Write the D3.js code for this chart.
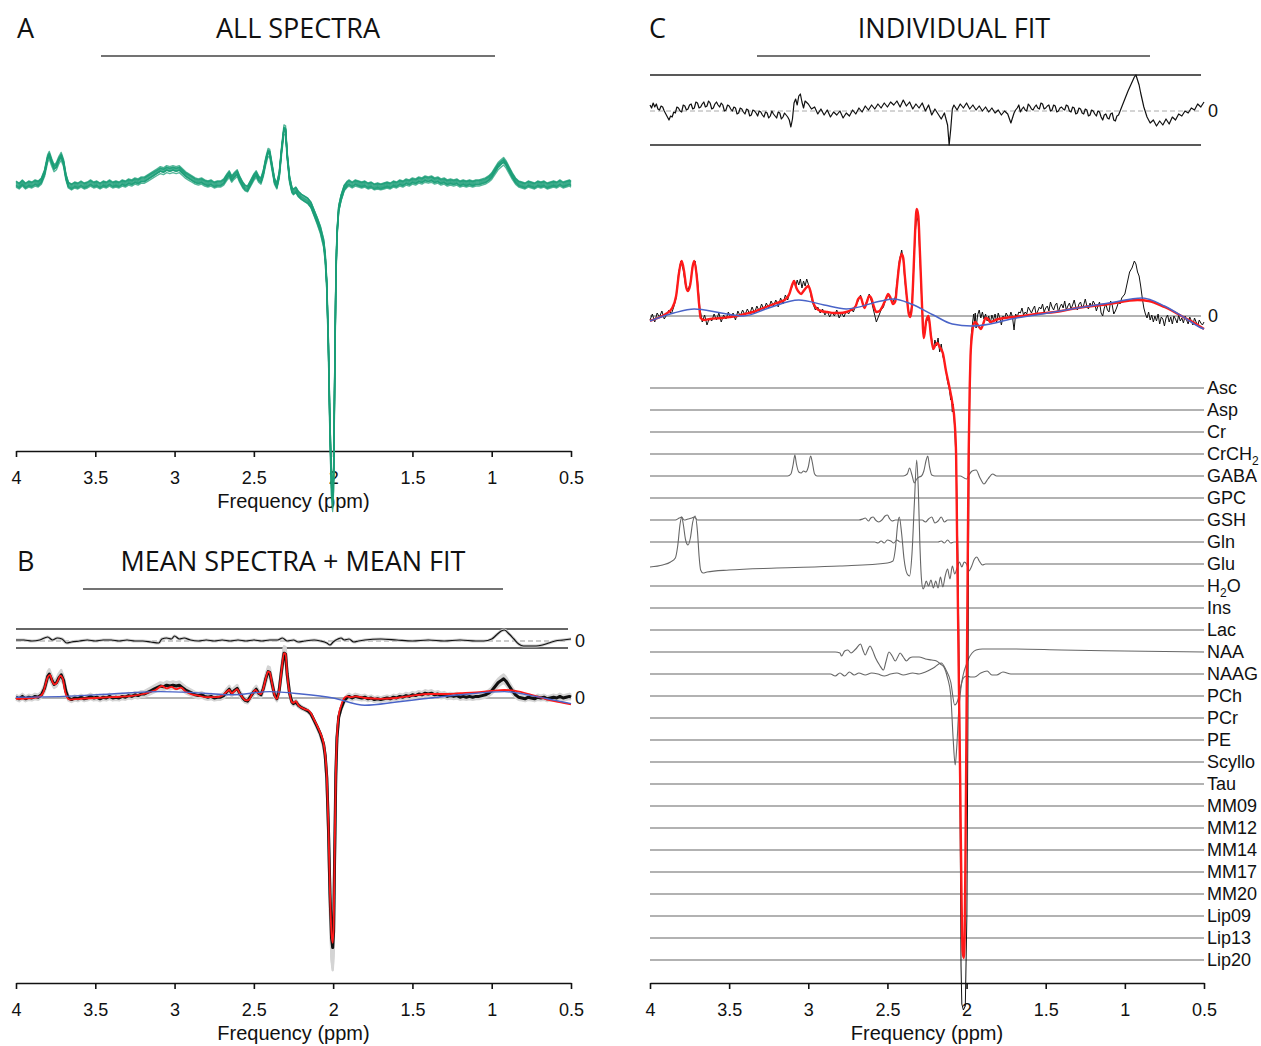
<!DOCTYPE html>
<html>
<head>
<meta charset="utf-8">
<script src="https://cdn.jsdelivr.net/npm/d3@7"></script>
<style>
body { margin: 0; background: #fff; }
</style>
</head>
<body>
<script>
// tick labels (ppm)
var tickPpm = [4, 3.5, 3, 2.5, 2, 1.5, 1, 0.5];
var tickLabels = ["4", "3.5", "3", "2.5", "2", "1.5", "1", "0.5"];

// mean spectrum [ppm, intensity] (A/B)
var meanSpec = [
[4.00,1],[3.98,-1],[3.96,2],[3.94,-1],[3.92,1],[3.90,0],[3.88,2],[3.86,1],[3.84,4],[3.82,12],[3.80,27],[3.79,30],[3.775,23],[3.76,17],[3.745,19],[3.73,25],[3.715,29],[3.70,22],[3.685,8],[3.67,0],[3.65,-2],[3.63,0],[3.61,-1],[3.59,1],[3.57,-1],[3.55,0],[3.53,2],[3.51,0],[3.49,1],[3.47,-1],[3.45,1],[3.43,0],[3.41,2],[3.39,0],[3.37,1],[3.35,0],[3.33,2],[3.31,1],[3.29,3],[3.27,2],[3.25,4],[3.23,3],[3.21,5],[3.19,5],[3.17,7],[3.15,9],[3.13,11],[3.11,13],[3.09,15],[3.07,14],[3.05,16],[3.03,15],[3.01,16],[2.99,15],[2.97,16],[2.95,13],[2.93,10],[2.91,8],[2.89,6],[2.87,4],[2.85,3],[2.83,4],[2.81,2],[2.79,1],[2.77,2],[2.75,0],[2.73,1],[2.71,1],[2.69,3],[2.67,8],[2.655,11],[2.64,6],[2.625,9],[2.605,12],[2.59,6],[2.57,0],[2.555,-3],[2.54,-4],[2.52,2],[2.50,8],[2.485,11],[2.47,6],[2.455,4],[2.44,12],[2.425,24],[2.41,33],[2.40,32],[2.385,18],[2.37,4],[2.355,-1],[2.34,10],[2.325,35],[2.31,56],[2.30,55],[2.29,30],[2.275,6],[2.26,-5],[2.25,-7],[2.235,-5],[2.22,-9],[2.20,-12],[2.18,-14],[2.16,-16],[2.14,-20],[2.12,-28],[2.10,-36],[2.08,-45],[2.06,-58],[2.05,-72],[2.04,-100],[2.03,-160],[2.02,-245],[2.01,-300],[2.003,-312],[1.997,-292],[1.99,-190],[1.983,-95],[1.976,-50],[1.965,-24],[1.95,-13],[1.94,-8],[1.93,-3],[1.91,1],[1.90,2],[1.88,0],[1.86,2],[1.84,1],[1.82,0],[1.80,1],[1.78,-1],[1.76,0],[1.74,-2],[1.72,-1],[1.70,-2],[1.68,-1],[1.66,0],[1.64,-1],[1.62,1],[1.60,0],[1.58,2],[1.56,1],[1.54,3],[1.52,2],[1.50,4],[1.48,3],[1.46,5],[1.44,4],[1.42,6],[1.40,5],[1.38,6],[1.36,4],[1.34,5],[1.32,3],[1.30,4],[1.28,2],[1.26,3],[1.24,2],[1.22,3],[1.20,1],[1.18,2],[1.16,1],[1.14,2],[1.12,1],[1.10,2],[1.08,2],[1.06,3],[1.04,4],[1.02,6],[1.00,9],[0.98,14],[0.96,19],[0.94,22],[0.925,24],[0.91,21],[0.89,15],[0.87,9],[0.85,4],[0.83,1],[0.81,0],[0.79,-1],[0.77,1],[0.75,0],[0.73,-1],[0.71,1],[0.69,0],[0.67,1],[0.65,-1],[0.63,0],[0.61,1],[0.59,0],[0.57,2],[0.55,0],[0.53,1],[0.51,2],[0.50,1]
];

// per subject gain / offset of the individual spectra
var subjectGain = [1.04, 0.97, 1.0, 1.02, 0.96, 1.01, 0.99, 1.03, 0.98];
var subjectShift = [-2, 2, 0, 3, -3, 1, -1, -1.5, 2.5];

// mean fit, baseline, residual (B)
var fitB = [[4.00,-1],[3.90,0],[3.86,1],[3.83,6],[3.80,26],[3.785,29],[3.77,20],[3.755,17],[3.74,20],[3.72,28],[3.705,24],[3.69,8],[3.675,0],[3.66,-2],[3.60,-1],[3.50,0],[3.40,1],[3.30,2],[3.20,5],[3.12,10],[3.08,15],[3.05,12],[3.02,14],[2.99,11],[2.96,13],[2.93,8],[2.90,5],[2.85,3],[2.80,1],[2.74,1],[2.70,3],[2.67,8],[2.655,10],[2.64,6],[2.625,8],[2.605,11],[2.59,6],[2.57,0],[2.55,-3],[2.53,-2],[2.51,5],[2.49,10],[2.47,6],[2.455,5],[2.44,12],[2.425,24],[2.41,33],[2.40,32],[2.385,18],[2.37,4],[2.355,-1],[2.34,10],[2.325,35],[2.31,56],[2.30,55],[2.29,30],[2.275,6],[2.26,-5],[2.25,-6],[2.235,-4],[2.22,-9],[2.20,-12],[2.18,-14],[2.16,-15],[2.14,-19],[2.12,-27],[2.10,-35],[2.08,-44],[2.06,-57],[2.05,-71],[2.04,-98],[2.03,-158],[2.02,-242],[2.01,-296],[2.003,-306],[1.997,-288],[1.99,-188],[1.983,-94],[1.976,-50],[1.965,-22],[1.95,-10],[1.94,-4],[1.93,0],[1.91,2],[1.89,1],[1.86,2],[1.80,0],[1.70,-1],[1.60,0],[1.50,3],[1.40,5],[1.30,5],[1.20,6],[1.10,7],[1.00,9],[0.92,10],[0.85,9],[0.75,4],[0.65,-2],[0.55,-6],[0.50,-8]];
var baseB = [[4.00,1],[3.70,2],[3.40,5],[3.09,8],[2.90,7],[2.64,4],[2.40,8],[2.20,5],[2.00,0],[1.80,-9],[1.60,-5],[1.43,-1],[1.20,4],[0.92,8],[0.75,3],[0.60,-3],[0.50,-7]];
var residB = [[4.00,1],[3.95,1],[3.90,0],[3.85,1],[3.80,4],[3.77,1],[3.74,3],[3.71,2],[3.68,-2],[3.65,-1],[3.60,0],[3.55,1],[3.50,0],[3.45,1],[3.40,1],[3.35,0],[3.30,1],[3.25,0],[3.20,0],[3.15,-1],[3.10,-2],[3.08,2],[3.05,3],[3.02,2],[3.00,5],[2.97,2],[2.94,3],[2.90,1],[2.85,0],[2.80,1],[2.75,0],[2.70,1],[2.65,0],[2.60,1],[2.55,0],[2.50,1],[2.45,0],[2.40,1],[2.35,1],[2.32,3],[2.29,0],[2.25,1],[2.22,-1],[2.18,0],[2.12,1],[2.08,0],[2.04,-2],[2.02,-4],[2.00,-1],[1.97,2],[1.95,3],[1.93,1],[1.90,2],[1.87,-1],[1.84,0],[1.80,1],[1.70,2],[1.60,1],[1.50,0],[1.40,1],[1.30,0],[1.20,1],[1.10,0],[1.05,0],[1.00,2],[0.97,6],[0.94,10],[0.92,11],[0.89,7],[0.86,2],[0.83,-3],[0.80,-5],[0.76,-5],[0.72,-5],[0.68,-4],[0.64,-2],[0.60,0],[0.55,1],[0.50,2]];

// individual fit (C)
var dataC = [[4.00,-4],[3.985,2],[3.97,-6],[3.955,3],[3.94,-1],[3.925,5],[3.91,-3],[3.895,1],[3.88,6],[3.865,2],[3.85,9],[3.835,18],[3.82,42],[3.805,55],[3.79,46],[3.775,30],[3.76,26],[3.745,33],[3.73,51],[3.715,55],[3.70,36],[3.685,8],[3.67,-6],[3.655,1],[3.64,-9],[3.625,-2],[3.61,-5],[3.595,2],[3.58,-4],[3.565,3],[3.55,-6],[3.535,1],[3.52,-3],[3.505,4],[3.49,-2],[3.475,3],[3.46,-4],[3.445,5],[3.43,0],[3.415,6],[3.40,1],[3.385,7],[3.37,2],[3.355,9],[3.34,3],[3.325,10],[3.31,5],[3.295,12],[3.28,6],[3.265,13],[3.25,8],[3.235,15],[3.22,10],[3.205,16],[3.19,9],[3.175,18],[3.16,12],[3.145,21],[3.13,16],[3.115,25],[3.10,30],[3.09,36],[3.08,29],[3.07,36],[3.06,31],[3.05,37],[3.04,28],[3.03,35],[3.02,30],[3.01,37],[3.00,32],[2.99,26],[2.98,18],[2.97,12],[2.955,6],[2.94,9],[2.925,3],[2.91,7],[2.895,1],[2.88,5],[2.865,-1],[2.85,4],[2.835,0],[2.82,6],[2.805,-2],[2.79,3],[2.775,-1],[2.76,5],[2.745,2],[2.73,8],[2.715,4],[2.70,11],[2.685,15],[2.67,21],[2.655,11],[2.645,9],[2.63,15],[2.615,22],[2.60,14],[2.585,4],[2.57,-6],[2.555,0],[2.54,6],[2.525,9],[2.51,18],[2.495,21],[2.48,16],[2.465,14],[2.45,19],[2.44,33],[2.425,55],[2.41,66],[2.40,56],[2.39,36],[2.375,14],[2.365,4],[2.355,2],[2.345,12],[2.335,44],[2.325,82],[2.315,100],[2.305,94],[2.295,60],[2.285,22],[2.27,-20],[2.255,-6],[2.24,-2],[2.225,-18],[2.21,-34],[2.20,-24],[2.19,-30],[2.18,-22],[2.17,-36],[2.16,-28],[2.15,-40],[2.14,-46],[2.13,-55],[2.12,-66],[2.11,-72],[2.10,-84],[2.095,-80],[2.09,-96],[2.085,-88],[2.075,-112],[2.065,-150],[2.055,-240],[2.045,-380],[2.04,-520],[2.035,-650],[2.03,-688],[2.02,-694],[2.008,-690],[1.998,-600],[1.992,-420],[1.988,-250],[1.985,-140],[1.98,-75],[1.975,-40],[1.97,-18],[1.96,-4],[1.955,2],[1.95,-6],[1.945,3],[1.94,-12],[1.93,1],[1.92,6],[1.91,-2],[1.90,4],[1.89,-3],[1.88,2],[1.87,-5],[1.86,0],[1.85,-7],[1.84,1],[1.83,-4],[1.82,2],[1.81,-6],[1.80,3],[1.79,-2],[1.78,-9],[1.77,0],[1.76,-3],[1.75,3],[1.74,0],[1.73,-2],[1.72,4],[1.71,-1],[1.70,-14],[1.69,2],[1.68,-1],[1.67,4],[1.66,3],[1.65,8],[1.64,1],[1.63,4],[1.62,2],[1.61,9],[1.60,6],[1.59,3],[1.58,7],[1.57,10],[1.56,1],[1.55,5],[1.54,9],[1.53,7],[1.52,12],[1.51,4],[1.50,8],[1.49,10],[1.48,5],[1.47,14],[1.46,9],[1.45,6],[1.44,11],[1.43,13],[1.42,4],[1.41,9],[1.40,12],[1.39,8],[1.38,15],[1.37,6],[1.36,10],[1.35,13],[1.34,7],[1.33,11],[1.32,16],[1.31,9],[1.30,6],[1.29,12],[1.28,14],[1.27,8],[1.26,11],[1.25,17],[1.24,10],[1.23,7],[1.22,13],[1.21,9],[1.20,15],[1.19,12],[1.18,5],[1.17,10],[1.16,14],[1.15,3],[1.14,0],[1.13,8],[1.12,12],[1.11,6],[1.10,4],[1.09,15],[1.08,11],[1.07,2],[1.06,5],[1.05,9],[1.04,14],[1.03,12],[1.02,18],[1.00,22],[0.985,33],[0.97,44],[0.955,48],[0.94,55],[0.93,52],[0.92,44],[0.91,40],[0.90,30],[0.89,18],[0.88,8],[0.87,2],[0.86,-2],[0.85,4],[0.84,-4],[0.83,1],[0.82,-6],[0.81,0],[0.80,-5],[0.79,2],[0.78,-8],[0.77,-1],[0.76,-3],[0.75,-10],[0.74,-2],[0.73,1],[0.72,-6],[0.71,-1],[0.70,-8],[0.69,0],[0.68,-3],[0.67,-7],[0.66,1],[0.65,-5],[0.64,-2],[0.63,-7],[0.62,0],[0.61,-4],[0.60,-8],[0.59,-1],[0.58,-5],[0.57,-9],[0.56,-2],[0.55,-6],[0.54,-10],[0.53,-4],[0.52,-7],[0.51,-9],[0.50,-6]];
var fitC = [[4.00,-5],[3.95,-2],[3.90,2],[3.86,8],[3.835,20],[3.815,45],[3.80,55],[3.785,45],[3.77,28],[3.76,25],[3.745,32],[3.73,50],[3.72,55],[3.705,40],[3.69,12],[3.68,-2],[3.66,-4],[3.62,-3],[3.55,-2],[3.50,-1],[3.45,0],[3.40,2],[3.35,4],[3.30,7],[3.25,10],[3.20,13],[3.15,16],[3.12,22],[3.10,32],[3.09,35],[3.075,28],[3.06,24],[3.045,22],[3.03,25],[3.015,28],[3.00,30],[2.985,24],[2.97,14],[2.95,8],[2.92,5],[2.88,4],[2.84,3],[2.80,3],[2.76,4],[2.73,6],[2.70,10],[2.685,17],[2.67,19],[2.655,12],[2.645,8],[2.63,14],[2.615,20],[2.60,17],[2.585,9],[2.57,4],[2.55,5],[2.53,10],[2.51,17],[2.495,22],[2.48,18],[2.465,12],[2.45,15],[2.44,30],[2.425,52],[2.41,62],[2.40,58],[2.39,40],[2.375,15],[2.365,2],[2.355,-1],[2.345,10],[2.335,45],[2.325,85],[2.315,107],[2.305,100],[2.295,65],[2.285,25],[2.27,-22],[2.255,-5],[2.24,0],[2.225,-20],[2.21,-33],[2.20,-30],[2.185,-27],[2.17,-31],[2.15,-37],[2.13,-55],[2.11,-70],[2.09,-87],[2.075,-107],[2.066,-140],[2.06,-220],[2.05,-350],[2.04,-470],[2.032,-580],[2.025,-635],[2.018,-642],[2.012,-620],[2.006,-520],[2.0,-400],[1.993,-250],[1.987,-140],[1.98,-70],[1.975,-40],[1.965,-18],[1.955,-8],[1.945,-6],[1.925,-10],[1.91,-13],[1.895,-8],[1.88,-2],[1.865,-3],[1.85,-6],[1.83,-5],[1.80,-3],[1.70,-1],[1.56,2],[1.40,5],[1.30,8],[1.10,12],[0.92,16],[0.85,15],[0.75,9],[0.62,-2],[0.53,-10],[0.50,-13]];
var baseC = [[4.00,-5],[3.85,3],[3.72,7],[3.55,3],[3.41,0],[3.25,8],[3.06,16],[2.90,11],[2.76,7],[2.54,15],[2.46,17],[2.35,12],[2.21,1],[2.09,-8],[1.97,-10],[1.85,-8],[1.72,-3],[1.56,1],[1.30,8],[1.10,13],[0.89,18],[0.75,10],[0.62,-2],[0.53,-11],[0.50,-13]];
var residC = [[4.00,6],[3.99,3],[3.98,8],[3.97,4],[3.96,7],[3.95,2],[3.94,1],[3.93,5],[3.92,4],[3.91,0],[3.90,-3],[3.89,-6],[3.88,-9],[3.87,-5],[3.86,-6],[3.85,-1],[3.84,-2],[3.83,4],[3.82,3],[3.81,0],[3.80,-1],[3.79,6],[3.78,5],[3.77,1],[3.76,2],[3.75,6],[3.74,7],[3.73,2],[3.72,3],[3.71,9],[3.70,8],[3.69,3],[3.68,4],[3.67,7],[3.66,9],[3.65,4],[3.64,5],[3.63,10],[3.62,8],[3.61,2],[3.60,3],[3.59,7],[3.58,9],[3.57,6],[3.56,4],[3.55,8],[3.54,6],[3.53,0],[3.52,1],[3.51,6],[3.50,5],[3.49,2],[3.48,0],[3.47,4],[3.46,3],[3.45,-3],[3.44,-2],[3.43,3],[3.42,2],[3.41,-1],[3.40,-3],[3.39,2],[3.38,1],[3.37,-5],[3.36,-4],[3.35,1],[3.34,0],[3.33,-2],[3.32,-5],[3.31,0],[3.30,-1],[3.29,-4],[3.28,-6],[3.27,-1],[3.26,-2],[3.25,-7],[3.24,-5],[3.23,0],[3.22,-3],[3.21,-5],[3.20,-7],[3.19,-1],[3.18,-2],[3.17,-8],[3.16,-6],[3.15,-2],[3.14,-4],[3.13,-6],[3.12,-9],[3.11,-16],[3.10,-8],[3.09,8],[3.08,12],[3.07,6],[3.06,15],[3.05,17],[3.04,9],[3.03,3],[3.02,10],[3.00,7],[2.98,2],[2.96,4],[2.94,-3],[2.92,2],[2.90,-4],[2.88,1],[2.86,-6],[2.84,-1],[2.82,-4],[2.80,0],[2.78,-7],[2.76,-2],[2.74,-5],[2.72,1],[2.70,-3],[2.68,3],[2.66,-1],[2.64,5],[2.62,1],[2.60,6],[2.58,2],[2.56,7],[2.54,3],[2.52,8],[2.50,4],[2.48,9],[2.46,6],[2.44,10],[2.42,4],[2.40,11],[2.38,5],[2.36,9],[2.34,2],[2.32,7],[2.30,3],[2.28,8],[2.26,0],[2.24,6],[2.22,-4],[2.20,2],[2.18,-3],[2.16,-8],[2.14,-2],[2.12,-14],[2.11,-34],[2.10,-18],[2.09,2],[2.08,6],[2.06,1],[2.04,7],[2.02,3],[2.00,8],[1.98,2],[1.96,6],[1.94,1],[1.92,5],[1.90,0],[1.88,4],[1.86,-1],[1.84,3],[1.82,-2],[1.80,1],[1.78,-4],[1.76,0],[1.74,-3],[1.72,-12],[1.70,-2],[1.69,1],[1.68,3],[1.67,6],[1.66,-1],[1.65,2],[1.64,4],[1.63,1],[1.62,0],[1.61,7],[1.60,5],[1.59,2],[1.58,1],[1.57,4],[1.56,6],[1.55,3],[1.54,2],[1.53,8],[1.52,7],[1.51,2],[1.50,3],[1.49,5],[1.48,6],[1.47,0],[1.46,1],[1.45,6],[1.44,5],[1.43,-1],[1.42,0],[1.41,3],[1.40,4],[1.39,2],[1.38,1],[1.37,6],[1.36,5],[1.35,0],[1.34,-1],[1.33,4],[1.32,3],[1.31,-3],[1.30,-2],[1.29,3],[1.28,2],[1.27,-2],[1.26,-3],[1.25,2],[1.24,1],[1.23,-5],[1.22,-4],[1.21,1],[1.20,0],[1.19,-3],[1.18,-5],[1.17,0],[1.16,-1],[1.15,-6],[1.14,-9],[1.13,-4],[1.12,-3],[1.11,-7],[1.10,-8],[1.09,-3],[1.08,-2],[1.07,-9],[1.06,-10],[1.05,-5],[1.04,-4],[1.02,4],[1.00,12],[0.98,20],[0.96,27],[0.94,34],[0.93,36],[0.92,31],[0.91,26],[0.90,18],[0.88,4],[0.86,-6],[0.84,-12],[0.82,-9],[0.80,-15],[0.78,-10],[0.76,-14],[0.74,-8],[0.72,-13],[0.70,-6],[0.68,-9],[0.66,-3],[0.64,-5],[0.62,0],[0.60,-2],[0.58,3],[0.56,1],[0.54,7],[0.52,4],[0.50,9]];

// basis spectra (C), one row each
var metabNames = ["Asc","Asp","Cr","CrCH2","GABA","GPC","GSH","Gln","Glu","H2O","Ins","Lac","NAA","NAAG","PCh","PCr","PE","Scyllo","Tau","MM09","MM12","MM14","MM17","MM20","Lip09","Lip13","Lip20"];
var flatTrace = [[4.0,0],[0.5,0]];
var gabaTrace = [[4.0,0],[3.13,0],[3.11,2],[3.095,12],[3.085,21],[3.075,12],[3.06,4],[3.045,3],[3.03,5],[3.015,4],[3.0,9],[2.985,20],[2.975,14],[2.96,2],[2.945,0],[2.40,0],[2.375,2],[2.36,8],[2.345,1],[2.33,-7],[2.315,-3],[2.30,-1],[2.285,0],[2.27,5],[2.255,16],[2.245,20],[2.235,10],[2.22,1],[2.20,0],[2.04,0],[2.015,-2],[2.0,-3],[1.985,1],[1.965,5],[1.94,6],[1.915,-2],[1.89,-8],[1.865,-3],[1.835,2],[1.81,0],[0.5,0]];
var gshTrace = [[4.0,0],[3.84,0],[3.815,2],[3.80,3],[3.785,0],[3.76,1],[3.735,2],[3.72,3],[3.70,0],[2.68,0],[2.655,1],[2.64,2],[2.62,-1],[2.605,2],[2.59,3],[2.575,0],[2.555,-2],[2.535,0],[2.515,4],[2.50,5],[2.485,1],[2.47,-1],[2.45,0],[2.28,0],[2.26,-2],[2.24,1],[2.22,3],[2.20,-3],[2.18,-1],[2.16,3],[2.14,-2],[2.12,0],[0.5,0]];
var glnTrace = [[4.0,0],[2.58,0],[2.56,-1],[2.54,1],[2.52,-1],[2.50,2],[2.48,1],[2.46,-1],[2.44,2],[2.42,0],[2.18,0],[2.16,1],[2.14,-1],[2.12,2],[2.10,-1],[2.08,0],[0.5,0]];
var gluTrace = [[4.0,-3],[3.92,-1],[3.87,2],[3.84,6],[3.825,18],[3.81,40],[3.80,47],[3.79,40],[3.775,24],[3.76,19],[3.745,26],[3.73,42],[3.715,48],[3.70,32],[3.69,8],[3.68,-6],[3.665,-9],[3.64,-8],[3.50,-6],[3.20,-4],[2.80,-2],[2.50,1],[2.465,3],[2.45,15],[2.435,40],[2.425,47],[2.41,30],[2.395,5],[2.375,-10],[2.36,-12],[2.345,10],[2.33,60],[2.315,104],[2.305,75],[2.295,20],[2.285,-15],[2.275,-25],[2.265,-22],[2.255,-17],[2.24,-22],[2.225,-16],[2.21,-24],[2.195,-17],[2.18,-24],[2.165,-13],[2.15,-23],[2.135,-12],[2.12,-5],[2.105,-15],[2.09,-2],[2.075,-10],[2.06,-4],[2.045,2],[2.03,-3],[2.015,2],[2.0,0],[1.985,-7],[1.97,-3],[1.95,5],[1.935,7],[1.92,3],[1.90,-1],[1.88,0],[0.5,0]];
var naaTrace = [[4.0,0],[2.83,0],[2.80,-1],[2.79,-4],[2.77,1],[2.75,2],[2.73,-1],[2.70,3],[2.67,8],[2.655,2],[2.64,-3],[2.625,2],[2.61,6],[2.595,2],[2.575,-6],[2.55,-13],[2.525,-18],[2.51,-10],[2.49,0],[2.47,-4],[2.45,-9],[2.435,-5],[2.42,-1],[2.40,-5],[2.38,-9],[2.36,-6],[2.34,-5],[2.30,-5],[2.26,-7],[2.22,-8],[2.19,-9],[2.165,-12],[2.14,-16],[2.12,-26],[2.10,-43],[2.085,-86],[2.072,-113],[2.062,-95],[2.05,-60],[2.035,-35],[2.02,-22],[2.0,-12],[1.985,-6],[1.965,-1],[1.94,2],[1.90,3],[1.70,3],[1.40,2],[1.0,1],[0.5,0]];
var naagTrace = [[4.0,0],[2.86,0],[2.83,-2],[2.80,1],[2.77,-2],[2.74,2],[2.71,-1],[2.68,1],[2.64,-1],[2.60,1],[2.56,0],[2.52,-2],[2.48,0],[2.44,1],[2.40,-1],[2.34,1],[2.30,0],[2.26,2],[2.21,6],[2.16,11],[2.13,4],[2.10,-8],[2.075,-31],[2.055,-26],[2.04,-15],[2.02,-4],[2.0,-2],[1.975,-3],[1.95,-3],[1.91,1],[1.87,3],[1.84,-1],[1.81,-1],[1.77,2],[1.72,0],[0.5,0]];
var metabTraces = { GABA: gabaTrace, GSH: gshTrace, Gln: glnTrace, Glu: gluTrace, NAA: naaTrace, NAAG: naagTrace };

var green = "#1b9e77", red = "#ff1a1a", blue = "#4a64c8";
var tickFont = "'Liberation Sans', Arial, sans-serif";
var titleFont = "'Open Sans', sans-serif";

var svg = d3.select("body").append("svg")
    .attr("width", 1261)
    .attr("height", 1046)
    .style("background", "#fff");

// scales
var xAB = d3.scaleLinear().domain([4, 0.5]).range([16, 571]);
var xC = d3.scaleLinear().domain([4, 0.5]).range([650, 1204]);

var yA = d3.scaleLinear().domain([0, -100]).range([185, 285]);
var yB = d3.scaleLinear().domain([0, -100]).range([698, 778]);
var yBres = d3.scaleLinear().domain([-7, 12]).range([648, 629]);
var yC = d3.scaleLinear().domain([0, -100]).range([316, 416]);
var yCres = d3.scaleLinear().domain([-34, 36]).range([145, 75]);
var rowY = d3.scalePoint().domain(metabNames).range([388, 960]);

function specLine(x, y, smooth) {
    return d3.line()
        .x(function (d) { return x(d[0]); })
        .y(function (d) { return y(d[1]); })
        .curve(smooth ? d3.curveMonotoneX : d3.curveLinear);
}

function addPath(data, line, color, width, opacity) {
    svg.append("path")
        .datum(data)
        .attr("fill", "none")
        .attr("stroke", color)
        .attr("stroke-width", width)
        .attr("stroke-linejoin", "round")
        .attr("opacity", opacity == null ? 1 : opacity)
        .attr("d", line);
}

function hLine(x, y, v, color, width, dash) {
    svg.append("line")
        .attr("x1", x(4)).attr("x2", x(0.5) - 3)
        .attr("y1", y(v)).attr("y2", y(v))
        .attr("stroke", color)
        .attr("stroke-width", width)
        .attr("stroke-dasharray", dash || null);
}

function zeroLabel(x, y) {
    svg.append("text")
        .attr("x", x(0.5) + 4)
        .attr("y", y(0))
        .attr("dy", "0.36em")
        .attr("font-family", tickFont)
        .attr("font-size", 18)
        .attr("fill", "#111")
        .text("0");
}

// x axis + label
function drawAxis(x, y0, labelY) {
    var ax = d3.axisBottom(x)
        .tickValues(tickPpm)
        .tickFormat(function (d, i) { return tickLabels[i]; })
        .tickSize(6)
        .tickSizeOuter(0)
        .tickPadding(14);
    var g = svg.append("g")
        .attr("transform", "translate(0," + y0 + ")")
        .call(ax)
        .attr("font-family", tickFont)
        .attr("font-size", 18);
    g.select(".domain").attr("stroke", "#111").attr("stroke-width", 1.6);
    g.selectAll(".tick line").attr("stroke", "#111").attr("stroke-width", 1.6);
    g.selectAll(".tick text").attr("fill", "#111");
    svg.append("text")
        .attr("x", (x.range()[0] + x.range()[1]) / 2)
        .attr("y", labelY)
        .attr("text-anchor", "middle")
        .attr("font-family", tickFont)
        .attr("font-size", 20)
        .attr("fill", "#111")
        .text("Frequency (ppm)");
}

// panel letter, title and rule under it
function drawTitle(letter, lx, title, cx, ty, rx1, rx2, ry) {
    svg.append("text").attr("x", lx).attr("y", ty)
        .attr("font-family", titleFont).attr("font-size", 27).attr("fill", "#111")
        .text(letter);
    svg.append("text").attr("x", cx).attr("y", ty)
        .attr("text-anchor", "middle")
        .attr("font-family", titleFont).attr("font-size", 27).attr("fill", "#111")
        .text(title);
    svg.append("line")
        .attr("x1", rx1).attr("x2", rx2).attr("y1", ry).attr("y2", ry)
        .attr("stroke", "#444").attr("stroke-width", 1.6);
}

/* ---------- A: all spectra ---------- */
drawTitle("A", 17, "ALL SPECTRA", 298, 38, 101, 495, 56);
drawAxis(xAB, 451, 508);
subjectGain.forEach(function (g, i) {
    var sub = meanSpec.map(function (d) { return [d[0], d[1] * g + subjectShift[i]]; });
    addPath(sub, specLine(xAB, yA, false), green, 1.4, 0.75);
});

/* ---------- B: mean spectra + mean fit ---------- */
drawTitle("B", 17, "MEAN SPECTRA + MEAN FIT", 293, 571, 83, 503, 589);
drawAxis(xAB, 983, 1040);

// residual strip
hLine(xAB, yBres, 12, "#333", 1.6);
hLine(xAB, yBres, -7, "#333", 1.6);
hLine(xAB, yBres, 0, "#999", 1, "5,3");
addPath(residB, specLine(xAB, yBres, true), "#ccc", 3);
addPath(residB, specLine(xAB, yBres, true), "#111", 1.2);
zeroLabel(xAB, yBres);

// fit
hLine(xAB, yB, 0, "#999", 1.5);
[1.1, 0.92, 1.06, 0.95, 1.08].forEach(function (g, i) {
    var sub = meanSpec.map(function (d) { return [d[0], d[1] * g + [3, -3, 2, -2, 0][i]]; });
    addPath(sub, specLine(xAB, yB, false), "#d4d4d4", 2.5);
});
addPath(meanSpec, specLine(xAB, yB, false), "#111", 3);
addPath(fitB, specLine(xAB, yB, true), red, 1.8);
addPath(baseB, specLine(xAB, yB, true), blue, 1.4);
zeroLabel(xAB, yB);

/* ---------- C: individual fit ---------- */
drawTitle("C", 649, "INDIVIDUAL FIT", 954, 38, 757, 1150, 56);
drawAxis(xC, 983, 1040);

// residual strip
hLine(xC, yCres, 36, "#222", 1.6);
hLine(xC, yCres, -34, "#222", 1.6);
hLine(xC, yCres, 0, "#aaa", 1, "5,3");
addPath(residC, specLine(xC, yCres, false), "#111", 1.2);
zeroLabel(xC, yCres);

// basis rows
metabNames.forEach(function (name) {
    var y0 = rowY(name);
    var yRow = d3.scaleLinear().domain([0, 100]).range([y0, y0 - 100]);
    var trace = metabTraces[name] || flatTrace;
    addPath(trace, specLine(xC, yRow, true), "#666", 1.1);
    var t = svg.append("text")
        .attr("x", xC(0.5) + 3)
        .attr("y", y0)
        .attr("dy", "0.36em")
        .attr("font-family", tickFont)
        .attr("font-size", 18)
        .attr("fill", "#111");
    if (name === "CrCH2" || name === "H2O") {
        var parts = name === "CrCH2" ? ["CrCH", "2", ""] : ["H", "2", "O"];
        t.append("tspan").text(parts[0]);
        t.append("tspan").attr("font-size", 12).attr("dy", 5).text(parts[1]);
        if (parts[2]) t.append("tspan").attr("dy", -5).text(parts[2]);
    } else {
        t.text(name);
    }
});

// data, fit, baseline
hLine(xC, yC, 0, "#999", 1.5);
addPath(dataC, specLine(xC, yC, false), "#111", 1);
addPath(fitC, specLine(xC, yC, true), red, 2.4);
addPath(baseC, specLine(xC, yC, true), blue, 1.5);
zeroLabel(xC, yC);
</script>
</body>
</html>
